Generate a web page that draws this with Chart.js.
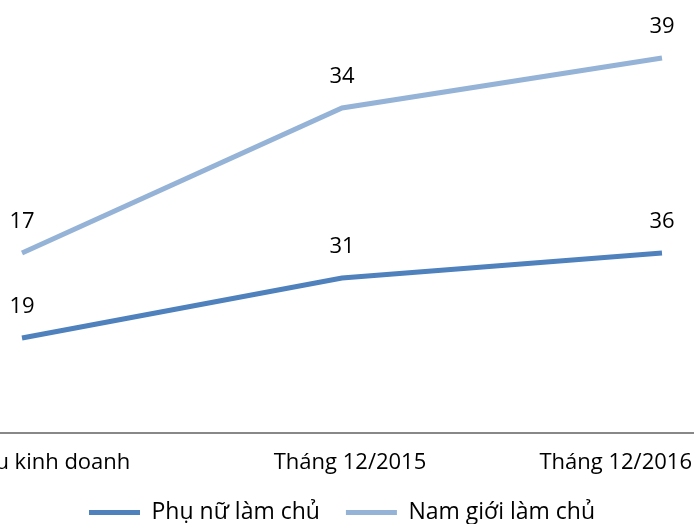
<!DOCTYPE html>
<html>
<head>
<meta charset="utf-8">
<script src="https://cdn.jsdelivr.net/npm/chart.js@4.4.1/dist/chart.umd.min.js"></script>
<style>
  html, body { margin: 0; padding: 0; background: #fff; overflow: hidden; width: 694px; height: 524px; }
  #wrap { position: absolute; left: -138px; top: 0; width: 960px; height: 534px; }
</style>
</head>
<body>
<div id="wrap"><canvas id="chart"></canvas></div>
<script>
var categories = ['Bắt đầu kinh doanh', 'Tháng 12/2015', 'Tháng 12/2016']
var women = [19, 31, 36]
var men = [17, 34, 39]

var font = { family: '"Open Sans", sans-serif', size: 22 }
var legendFont = { family: '"Open Sans", sans-serif', size: 23 }

// value labels above each point (raw value, not stacked total)
var valueLabels = {
  id: 'valueLabels',
  afterDatasetsDraw: function (chart) {
    var c = chart.ctx
    c.save()
    c.font = font.size + 'px ' + font.family
    c.fillStyle = '#000'
    c.textAlign = 'center'
    c.textBaseline = 'middle'
    chart.data.datasets.forEach(function (ds, i) {
      chart.getDatasetMeta(i).data.forEach(function (pt, j) {
        c.fillText(ds.data[j], pt.x, pt.y - 31)
      })
    })
    c.restore()
  }
}

new Chart(document.getElementById('chart'), {
  type: 'line',
  data: {
    labels: categories,
    datasets: [
      {
        label: 'Phụ nữ làm chủ',
        data: women,
        borderColor: '#4F81BD',
        backgroundColor: '#4F81BD',
        borderWidth: 5,
        pointRadius: 0,
        pointStyle: 'line',
        fill: false
      },
      {
        label: 'Nam giới làm chủ',
        data: men,
        borderColor: '#95B3D7',
        backgroundColor: '#95B3D7',
        borderWidth: 5,
        pointRadius: 0,
        pointStyle: 'line',
        fill: false
      }
    ]
  },
  options: {
    responsive: true,
    maintainAspectRatio: false,
    animation: false,
    layout: { padding: { top: 8, left: 0, right: 0, bottom: 0 } },
    scales: {
      x: {
        offset: true,
        grid: { drawOnChartArea: false, drawTicks: false },
        border: { display: true, color: '#888888', width: 2 },
        ticks: {
          font: font,
          color: '#000',
          padding: 17,
          labelOffset: 8,
          maxRotation: 0,
          autoSkip: false,
          callback: function (v, i) {
            var t = categories[i]
            // last label sits left of its point, like the original
            return i === categories.length - 1 ? t + ' '.repeat(19) : t
          }
        },
        afterFit: function (scale) {
          scale.height = 42
        }
      },
      y: {
        display: false,
        stacked: true,
        min: 0,
        max: 85
      }
    },
    plugins: {
      legend: {
        position: 'bottom',
        labels: {
          font: legendFont,
          color: '#000',
          usePointStyle: true,
          pointStyleWidth: 51,
          padding: 26
        }
      },
      tooltip: { enabled: false }
    }
  },
  plugins: [valueLabels]
})
</script>
</body>
</html>
